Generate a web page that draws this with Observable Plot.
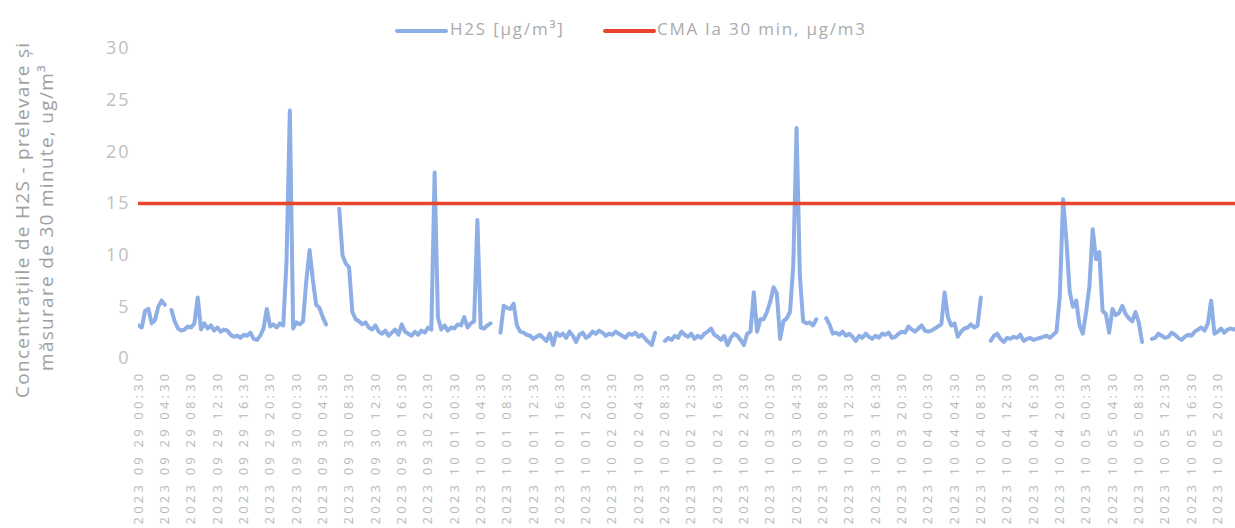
<!DOCTYPE html>
<html>
<head>
<meta charset="utf-8">
<script src="https://cdn.jsdelivr.net/npm/d3@7"></script>
<script src="https://cdn.jsdelivr.net/npm/@observablehq/plot@0.6"></script>
<style>
  html, body { margin: 0; padding: 0; background: #fff; }
  #wrap { position: relative; width: 1235px; height: 528px; overflow: hidden; font-family: "Open Sans", sans-serif; }
  #legend { position: absolute; top: 0; left: 0; width: 1235px; height: 44px; }
  .sw { position: absolute; height: 4px; border-radius: 2px; top: 29px; }
  .lt { position: absolute; top: 17px; font-size: 17px; letter-spacing: 1.8px; color: #ababab; white-space: nowrap; }
  .yt { position: absolute; white-space: nowrap; font-size: 19px; letter-spacing: 1.3px; color: #a0a0a0; transform-origin: 0 0; }
  #chart svg g[aria-label="x-axis tick label"] text { letter-spacing: 3.2px; }
  #chart svg g[aria-label="y-axis tick label"] text { letter-spacing: 2px; }
</style>
</head>
<body>
<div id="wrap">
  <div id="chart"></div>
  <div id="legend">
    <div class="sw" style="left:395px;width:53px;background:#8eaee6"></div>
    <div class="lt" style="left:450px">H2S [μg/m³]</div>
    <div class="sw" style="left:603px;width:53px;background:#e8452c"></div>
    <div class="lt" style="left:657px">CMA la 30 min, μg/m3</div>
  </div>
  <div class="yt" id="yt1">Concentrațiile de H2S - prelevare și</div>
  <div class="yt" id="yt2">măsurare de 30 minute, ug/m³</div>
</div>
<script>
const days = ["2023 09 29","2023 09 30","2023 10 01","2023 10 02","2023 10 03","2023 10 04","2023 10 05"];
const tickHours = ["00:30","04:30","08:30","12:30","16:30","20:30"];
const yTicks = [0,5,10,15,20,25,30];
const cmaValue = 15;

const h2s_0929 = [3.2,3.0,4.6,4.8,3.4,3.7,5.0,5.6,5.2,null, 4.7,3.6,2.9,2.7,2.8,3.1,3.0,3.4,5.9,2.8, 3.4,2.9,3.2,2.7,3.0,2.6,2.8,2.7,2.3,2.1, 2.2,2.0,2.3,2.2,2.5,1.9,1.8,2.2,2.9,4.8, 3.1,3.3,3.0,3.4,3.2,9.5,24.0,2.9];
const h2s_0930 = [3.5,3.3,3.6,7.5,10.5,7.6,5.2,4.9,4.0,3.3, null,null,null,14.5,10.0,9.2,8.8,4.5,3.8,3.6, 3.3,3.5,3.0,2.8,3.2,2.6,2.4,2.7,2.2,2.5, 2.8,2.3,3.3,2.6,2.4,2.2,2.6,2.3,2.7,2.5, 3.0,2.8,18.0,4.0,2.8,3.2,2.7,3.0];
const h2s_1001 = [2.9,3.3,3.2,4.0,3.0,3.4,3.6,13.4,3.0,2.9, 3.2,3.4,null,null,2.5,5.1,4.9,4.8,5.3,3.2, 2.6,2.5,2.3,2.2,1.9,2.1,2.3,2.0,1.7,2.4, 1.3,2.5,2.2,2.4,2.0,2.6,2.2,1.6,2.3,2.5, 2.0,2.2,2.6,2.4,2.7,2.5,2.2,2.4];
const h2s_1002 = [2.3,2.6,2.4,2.2,2.0,2.4,2.3,2.5,2.1,2.3, 1.9,1.6,1.3,2.5,null,null,1.7,2.0,1.8,2.2, 2.0,2.6,2.3,2.1,2.4,1.9,2.2,2.0,2.4,2.6, 2.9,2.3,2.1,1.8,2.2,1.3,2.0,2.4,2.2,1.8, 1.3,2.4,2.6,6.4,2.6,3.8,3.8,4.5];
const h2s_1003 = [5.5,6.9,6.3,1.9,3.6,3.9,4.5,9.0,22.3,8.0, 3.6,3.4,3.5,3.2,3.8,null,null,3.9,3.3,2.4, 2.5,2.3,2.6,2.2,2.4,2.1,1.7,2.2,2.0,2.4, 2.1,1.9,2.2,2.0,2.4,2.3,2.5,2.0,2.1,2.4, 2.6,2.5,3.1,2.8,2.6,2.9,3.2,2.7];
const h2s_1004 = [2.6,2.7,2.9,3.1,3.3,6.4,4.0,3.2,3.4,2.1, 2.6,2.9,3.0,3.3,3.0,3.2,5.9,null,null,1.7, 2.2,2.4,1.9,1.6,2.0,1.9,2.1,2.0,2.3,1.7, 1.9,2.0,1.8,1.9,2.0,2.1,2.2,2.0,2.3,2.6, 6.0,15.4,11.5,6.5,5.0,5.6,3.2,2.4];
const h2s_1005 = [4.5,7.0,12.5,9.6,10.3,4.6,4.3,2.5,4.8,4.2, 4.4,5.1,4.3,3.9,3.6,4.5,3.5,1.6,null,null, 1.9,2.0,2.4,2.2,2.0,2.1,2.5,2.3,2.0,1.8, 2.1,2.3,2.2,2.6,2.8,3.0,2.7,3.4,5.6,2.4, 2.6,2.9,2.5,2.8,2.9,2.8,3.0,2.9];

const series = [h2s_0929, h2s_0930, h2s_1001, h2s_1002, h2s_1003, h2s_1004, h2s_1005];
const data = [];
series.forEach((arr, d) => arr.forEach((v, k) => data.push({i: d * 48 + k, v: v == null ? NaN : v})));

const tickLabels = [];
days.forEach(d => tickHours.forEach(h => tickLabels.push(d + " " + h)));
const tickIdx = tickLabels.map((_, j) => j * 8);

const chart = Plot.plot({
  width: 1235,
  height: 528,
  marginLeft: 138,
  marginRight: 0,
  marginTop: 48,
  marginBottom: 170,
  style: { fontFamily: "Open Sans, sans-serif", background: "transparent" },
  x: { domain: [0, 333.4] },
  y: { domain: [0, 30] },
  marks: [
    Plot.axisY({ ticks: yTicks, tickSize: 0, tickPadding: 8, label: null, fontSize: 18, fill: "#c0c0c0" }),
    Plot.axisX({ ticks: tickIdx, tickFormat: i => tickLabels[i / 8], tickRotate: -90, tickSize: 0, tickPadding: 12, label: null, fontSize: 13, fill: "#b8b8b8" }),
    Plot.line(data, { x: "i", y: "v", stroke: "#8eaee6", strokeWidth: 4, strokeLinejoin: "round", strokeLinecap: "round", clip: true }),
    Plot.ruleY([cmaValue], { stroke: "#e8452c", strokeWidth: 3.5 })
  ]
});
document.getElementById("chart").appendChild(chart);

function placeTitle(id, cx, cy) {
  const el = document.getElementById(id);
  const w = el.offsetWidth, h = el.offsetHeight;
  el.style.left = (cx - h / 2) + "px";
  el.style.top = (cy + w / 2) + "px";
  el.style.transform = "rotate(-90deg)";
}
placeTitle("yt1", 22, 220);
placeTitle("yt2", 46, 217);
</script>
</body>
</html>
